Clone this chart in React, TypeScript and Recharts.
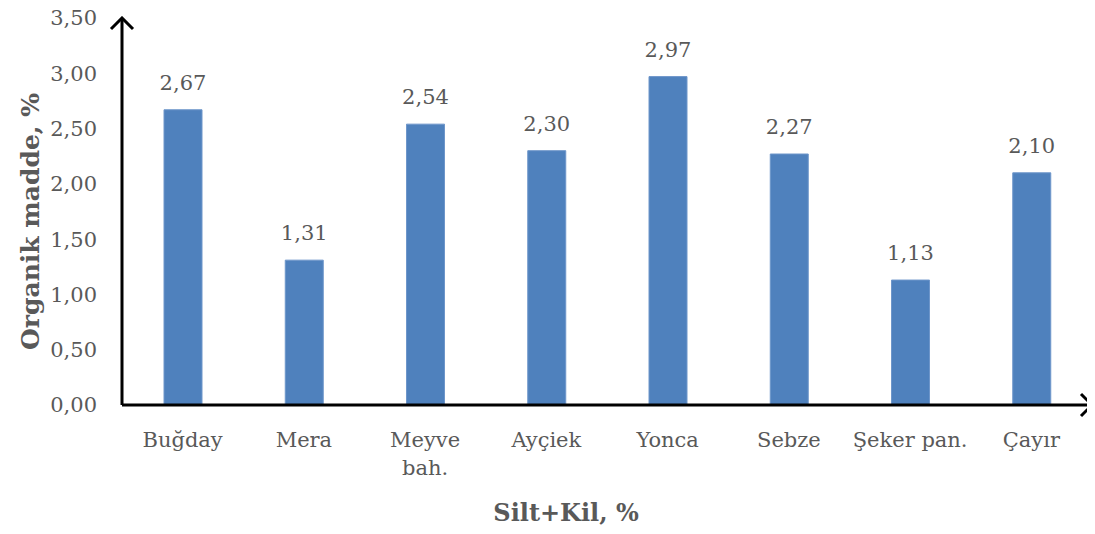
import { BarChart, Bar, XAxis, YAxis, LabelList } from 'recharts';

const categories = ['Buğday', 'Mera', 'Meyve\nbah.', 'Ayçiek', 'Yonca', 'Sebze', 'Şeker pan.', 'Çayır'];
const organicMatter = [2.67, 1.31, 2.54, 2.30, 2.97, 2.27, 1.13, 2.10];
const yTicks = [0, 0.5, 1, 1.5, 2, 2.5, 3, 3.5];

const FONT = '"DejaVu Serif", serif';
const GREY = '#595959';

const data = categories.map((name, i) => ({ name, value: organicMatter[i] }));

const fmt = (v: number) => v.toFixed(2).replace('.', ',');

const CategoryTick = ({ x, y, payload }: any) => {
  const lines = String(payload.value).split('\n');
  return (
    <text x={x} y={y} textAnchor="middle" fill={GREY} fontFamily={FONT} fontSize={21}>
      {lines.map((line, i) => (
        <tspan key={i} x={x} dy={i === 0 ? 40 : 28}>{line}</tspan>
      ))}
    </text>
  );
};

export default function App() {
  return (
    <div style={{ width: 1095, height: 526, margin: '-8px 0 0 -8px' }}>
      <BarChart
        width={1095}
        height={526}
        data={data}
        margin={{ top: 18, right: 3, left: 0, bottom: 0 }}
      >
        <defs>
          <marker
            id="arrow"
            viewBox="-14 -14 16 28"
            refX={0}
            refY={0}
            markerWidth={16}
            markerHeight={28}
            markerUnits="userSpaceOnUse"
            orient="auto-start-reverse"
          >
            <path d="M-11,-11 L0,0 L-11,11" fill="none" stroke="#000" strokeWidth={3} />
          </marker>
        </defs>
        <XAxis
          dataKey="name"
          height={121}
          interval={0}
          tickLine={false}
          tickSize={0}
          tick={<CategoryTick />}
          axisLine={{ stroke: '#000', strokeWidth: 3, markerEnd: 'url(#arrow)' }}
          label={{
            content: ({ viewBox }: any) => (
              <text
                x={viewBox.x + viewBox.width / 2 - 41}
                y={viewBox.y + 116}
                textAnchor="middle"
                fill={GREY}
                fontFamily={FONT}
                fontWeight="bold"
                fontSize={24}
              >
                Silt+Kil, %
              </text>
            ),
          }}
        />
        <YAxis
          width={122}
          domain={[0, 3.5]}
          ticks={yTicks}
          interval={0}
          tickFormatter={fmt}
          tickLine={false}
          tickSize={0}
          tickMargin={25}
          tick={{ fill: GREY, fontFamily: FONT, fontSize: 21 }}
          axisLine={{ stroke: '#000', strokeWidth: 3, markerStart: 'url(#arrow)' }}
          label={{
            content: ({ viewBox }: any) => {
              const cx = 30;
              const cy = viewBox.y + viewBox.height / 2 + 10;
              return (
                <text
                  x={cx}
                  y={cy}
                  transform={`rotate(-90 ${cx} ${cy})`}
                  textAnchor="middle"
                  dominantBaseline="central"
                  fill={GREY}
                  fontFamily={FONT}
                  fontWeight="bold"
                  fontSize={25}
                >
                  Organik madde, %
                </text>
              );
            },
          }}
        />
        <Bar dataKey="value" fill="#4F81BD" stroke="#6E96CA" strokeWidth={1} barSize={38} isAnimationActive={false}>
          <LabelList
            dataKey="value"
            position="top"
            offset={20}
            formatter={(v: any) => fmt(Number(v))}
            fill={GREY}
            fontFamily={FONT}
            fontSize={21}
          />
        </Bar>
      </BarChart>
    </div>
  );
}
